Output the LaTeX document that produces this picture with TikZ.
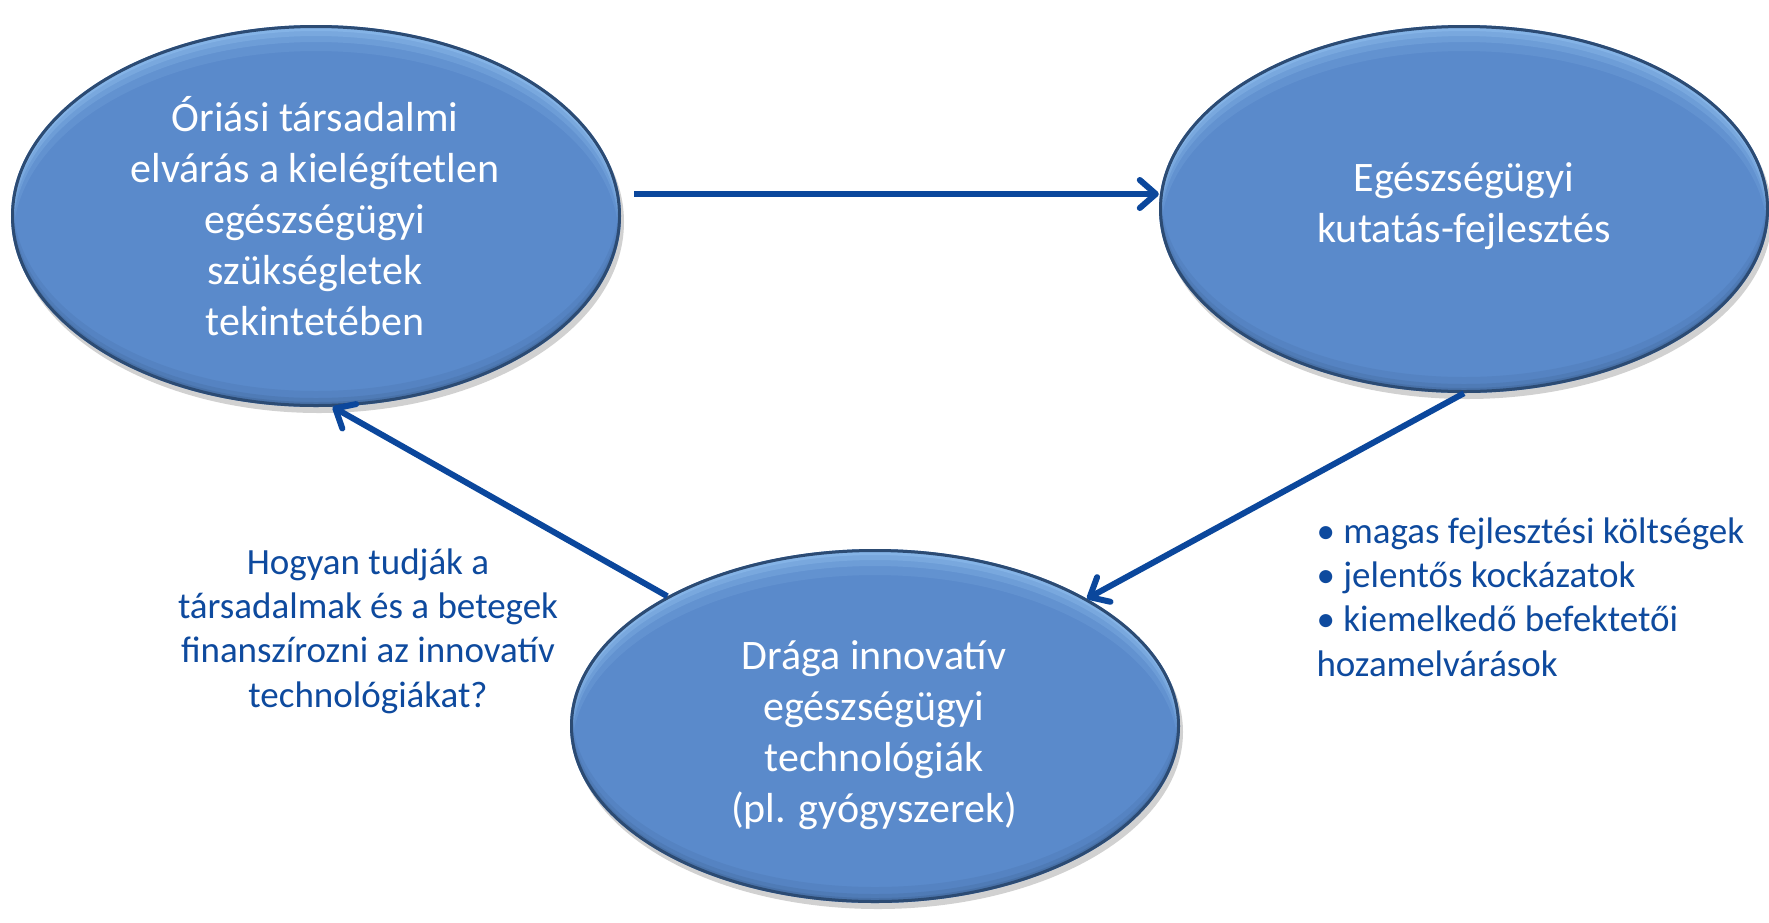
\documentclass[tikz,border=0pt]{standalone}
\usepackage{fontspec}
\setmainfont{Carlito}
\usetikzlibrary{shapes.geometric,arrows.meta,calc}
\definecolor{arrowblue}{HTML}{0B479C}
\definecolor{txtblue}{HTML}{0E4A9E}
\definecolor{bodyblue}{HTML}{5A8ACB}
\definecolor{rimblue}{HTML}{2C4B73}
\definecolor{hiblue}{HTML}{A4D0FB}
\newcommand\drawbubble[4]{%
 \begin{scope}[shift={(#1,#2)}]
  \fill[black,opacity=0.18] (3,6) ellipse [x radius=#3, y radius=#4];
  \fill[bodyblue] (0,0) ellipse [x radius=#3, y radius=#4];
  \begin{scope}
   \clip (0,0) ellipse [x radius=#3-2, y radius=#4-2];
   \foreach \s/\o in {24/0.12,15/0.18,9/0.22,4/0.28}{
     \fill[hiblue,opacity=\o,even odd rule] (0,0) ellipse [x radius=#3-2, y radius=#4-2] (0,\s) ellipse [x radius=#3-2, y radius=#4-2];
   }
   \foreach \s/\o in {14/0.10,7/0.14,3/0.2}{
     \fill[rimblue,opacity=\o,even odd rule] (0,0) ellipse [x radius=#3-2, y radius=#4-2] (0,-\s) ellipse [x radius=#3-2, y radius=#4-2];
   }
  \end{scope}
  \draw[rimblue,line width=3] (0,0) ellipse [x radius=#3-1.5, y radius=#4-1.5];
 \end{scope}}
\tikzset{
  bub/.style={ellipse,inner sep=0pt,draw=none},
  whitetext/.style={text=white,align=center,font=\fontsize{42}{51}\selectfont},
  bluetext/.style={text=txtblue,font=\fontsize{37}{44.4}\selectfont},
  arr/.style={draw=arrowblue,line width=6,-{Straight Barb[length=16,width=28,round]}}
}
\begin{document}
\begin{tikzpicture}[x=1pt,y=-1pt]
\useasboundingbox (0,0) rectangle (1769,922);
\fill[white] (0,0) rectangle (1769,922);
% bubbles
\drawbubble{316}{216}{305}{191}
\drawbubble{1464}{209}{305}{184}
\drawbubble{875}{726}{305}{177}
\node[bub,minimum width=610,minimum height=382] (e1) at (316,216) {};
\node[bub,minimum width=610,minimum height=368] (e2) at (1464,209) {};
\node[bub,minimum width=610,minimum height=354] (e3) at (875,726) {};
\node[whitetext] (t1) at (315,216) {Óriási társadalmi\\elvárás a kielégítetlen\\egészségügyi\\szükségletek\\tekintetében};
\node[whitetext] (t2) at (1464,206) {Egészségügyi\\kutatás-fejlesztés};
\node[whitetext] (t3) at (874,735) {Drága innovatív\\egészségügyi\\technológiák\\(pl. gyógyszerek)};
% side texts
\node[bluetext,align=center] (q) at (368,631) {Hogyan tudják a\\társadalmak és a betegek\\finanszírozni az innovatív\\technológiákat?};
\node[bluetext,align=left,anchor=west] (b) at (1313,597) {• magas fejlesztési költségek\\• jelentős kockázatok\\• kiemelkedő befektetői\\hozamelvárások};
% connectors
\coordinate (a1) at (634,194);
\draw[arr] (a1) -- (e2.west |- a1);
\draw[arr] (e2.south) -- (e3.31);
\draw[arr] (e3.148.6) -- (e1.275);
\end{tikzpicture}
\end{document}
